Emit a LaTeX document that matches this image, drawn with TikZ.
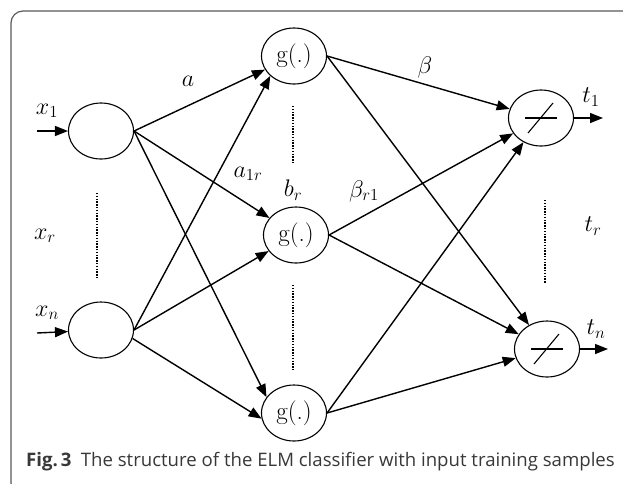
\RequirePackage{fix-cm}
\documentclass[tikz,border=0pt]{standalone}
\usepackage{fontspec}
\newfontfamily\capfont{Open Sans}
\usepackage{tikz}
\usetikzlibrary{arrows.meta,shapes.geometric}

\begin{document}
\begin{tikzpicture}[
  x=1pt, y=-1pt,
  neuron/.style={ellipse, draw, line width=1.1pt, minimum width=65pt, minimum height=56pt, inner sep=0pt, font=\fontsize{25}{30}\selectfont},
  arrow/.style={-{Triangle[length=13pt,width=10pt]}, line width=1.4pt},
  wlabel/.style={font=\fontsize{24}{28}\selectfont},
  dotline/.style={line width=1.8pt, dash pattern=on 1.4pt off 1.4pt}
]
\useasboundingbox (0,0) rectangle (623,483);
\draw[black!65, line width=1.2pt, rounded corners=12pt] (630,11) -- (11,11) -- (11,495) -- (630,495);

% input layer
\node[neuron] (in1) at (101,131) {};
\node[neuron] (inn) at (101,330) {};
% hidden layer
\node[neuron] (h1) at (294,56) {g(.)};
\node[neuron] (h2) at (296,235) {g(.)};
\node[neuron] (h3) at (294,413) {g(.)};
% output layer
\node[neuron] (o1) at (541,118) {};
\node[neuron] (o2) at (547,349) {};
\draw[line width=1.1pt] ([shift={(-16,0)}]o1.center) -- ([shift={(16,0)}]o1.center);
\draw[line width=1.1pt] ([shift={(-13,15)}]o1.center) -- ([shift={(12,-15)}]o1.center);
\draw[line width=1.1pt] ([shift={(-16,0)}]o2.center) -- ([shift={(16,0)}]o2.center);
\draw[line width=1.1pt] ([shift={(-13,15)}]o2.center) -- ([shift={(12,-15)}]o2.center);

\coordinate (xin1) at (37,131);
\coordinate (xinn) at (37,333);
\coordinate (tout1) at (603,118);
\coordinate (toutn) at (608,349);

% labels
\node[wlabel] (lx1) at (47,111) {$x_1$};
\node[wlabel] (lxr) at (45,236) {$x_r$};
\node[wlabel] (lxn) at (47,313) {$x_n$};
\node[wlabel] (la) at (188,81) {$a$};
\node[wlabel] (la1r) at (248,174) {$a_{1r}$};
\node[wlabel] (lbr) at (293,190) {$b_r$};
\node[wlabel] (lbeta) at (425,67) {$\beta$};
\node[wlabel] (lbetar1) at (364,191) {$\beta_{r1}$};
\node[wlabel] (lt1) at (591,97) {$t_1$};
\node[wlabel] (ltr) at (593,226) {$t_r$};
\node[wlabel] (ltn) at (596,329) {$t_n$};

% dotted gaps
\coordinate (d1a) at (97,193);
\coordinate (d1b) at (97,278);
\coordinate (d2a) at (293,106);
\coordinate (d2b) at (293,163);
\coordinate (d3a) at (293,285);
\coordinate (d3b) at (293,370);
\coordinate (d4a) at (545,200);
\coordinate (d4b) at (545,283);
\draw[dotline] (d1a) -- (d1b);
\draw[dotline] (d2a) -- (d2b);
\draw[dotline] (d3a) -- (d3b);
\draw[dotline] (d4a) -- (d4b);

\draw[arrow] (xin1) -- (in1);
\draw[arrow] (xinn) -- (inn);
\draw[arrow] (in1.east) -- (h1);
\draw[arrow] (in1.east) -- (h2);
\draw[arrow] (in1.east) -- (h3.150);
\draw[arrow] (inn.east) -- (h1.220);
\draw[arrow] (inn.east) -- (h2);
\draw[arrow] (inn.-15) -- (h3.190);
\draw[arrow] (h1.east) -- (o1);
\draw[arrow] (h1.east) -- (o2);
\draw[arrow] (h2.east) -- (o1);
\draw[arrow] (h2.east) -- (o2);
\draw[arrow] (h3.east) -- (o1);
\draw[arrow] (h3.east) -- (o2);
\draw[arrow] (o1) -- (tout1);
\draw[arrow] (o2) -- (toutn);

\node[anchor=base west, inner sep=0pt, text=black!78, font=\capfont\fontsize{18.6}{22}\selectfont] (caption) at (26,466)
  {\textbf{Fig.\,3}\enspace The structure of the ELM classifier with input training samples};
\end{tikzpicture}
\end{document}
